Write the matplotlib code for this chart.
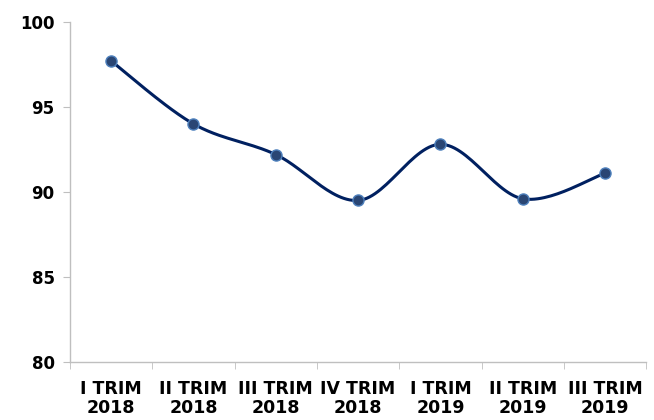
import numpy as np
import matplotlib.pyplot as plt

categories = ["I TRIM\n2018", "II TRIM\n2018", "III TRIM\n2018", "IV TRIM\n2018",
              "I TRIM\n2019", "II TRIM\n2019", "III TRIM\n2019"]
values = [97.7, 94.0, 92.2, 89.5, 92.8, 89.6, 91.1]

line_color = "#002060"
marker_face = "#2a4674"
marker_edge = "#4f81bd"
axis_color = "#bfbfbf"


def smooth(xs, ys, n=30):
    """Catmull-Rom style smoothing like Excel's smoothed line."""
    xs = np.asarray(xs, float)
    ys = np.asarray(ys, float)
    px = np.concatenate([[xs[0]], xs, [xs[-1]]])
    py = np.concatenate([[ys[0]], ys, [ys[-1]]])
    out_x, out_y = [], []
    t = np.linspace(0, 1, n)
    for i in range(1, len(px) - 2):
        p0 = np.array([px[i], py[i]])
        p3 = np.array([px[i + 1], py[i + 1]])
        c1 = p0 + (np.array([px[i + 1], py[i + 1]]) - np.array([px[i - 1], py[i - 1]])) / 6
        c2 = p3 - (np.array([px[i + 2], py[i + 2]]) - np.array([px[i], py[i]])) / 6
        b = ((1 - t) ** 3)[:, None] * p0 + (3 * (1 - t) ** 2 * t)[:, None] * c1 \
            + (3 * (1 - t) * t ** 2)[:, None] * c2 + (t ** 3)[:, None] * p3
        out_x.extend(b[:, 0])
        out_y.extend(b[:, 1])
    return out_x, out_y


fig = plt.figure(figsize=(6.54, 4.2), dpi=100)
ax = fig.add_axes([0.107, 0.138, 0.881, 0.81])

x = np.arange(len(values))
sx, sy = smooth(x, values)
ax.plot(sx, sy, color=line_color, linewidth=2.2, zorder=2)
ax.plot(x, values, linestyle="none", marker="o", markersize=8,
        markerfacecolor=marker_face, markeredgecolor=marker_edge,
        markeredgewidth=1.0, zorder=3)

ax.set_xlim(-0.5, len(values) - 0.5)
ax.set_ylim(80, 100)
ax.set_yticks([80, 85, 90, 95, 100])

ax.set_xticks(x)
ax.set_xticklabels(categories)
ax.set_xticks(np.arange(len(values) + 1) - 0.5, minor=True)
ax.tick_params(axis="x", which="major", length=0, pad=13)
ax.tick_params(axis="x", which="minor", length=5, color=axis_color, direction="out")
ax.tick_params(axis="y", length=5, color=axis_color, direction="out", pad=6)

for lab in ax.get_yticklabels():
    lab.set_fontsize(12)
    lab.set_fontweight("bold")
    lab.set_color("black")
for lab in ax.get_xticklabels():
    lab.set_fontsize(12.5)
    lab.set_fontweight("bold")
    lab.set_color("black")
    lab.set_linespacing(1.1)

for side in ["top", "right"]:
    ax.spines[side].set_visible(False)
for side in ["left", "bottom"]:
    ax.spines[side].set_color(axis_color)
    ax.spines[side].set_linewidth(1.0)

fig.savefig("out.png", dpi=100)
